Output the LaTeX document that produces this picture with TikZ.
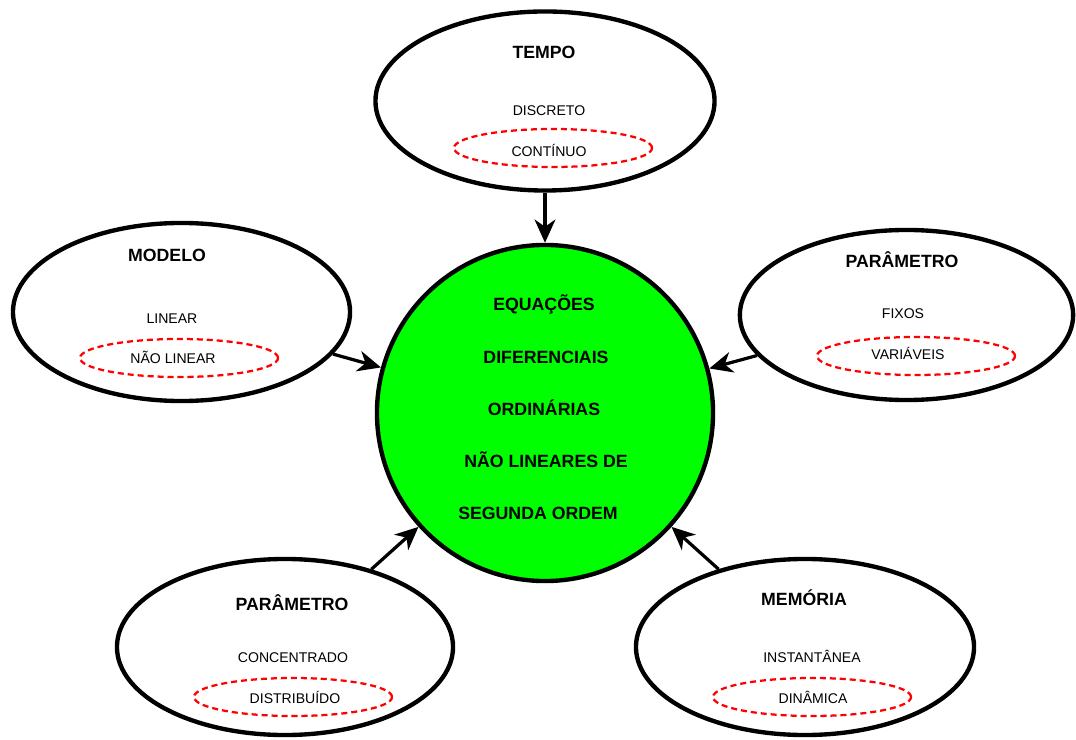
\documentclass[tikz,border=0pt]{standalone}
\usepackage{fontspec}
\setmainfont{Liberation Sans}
\usepackage{xcolor}
\usetikzlibrary{arrows.meta, positioning, shapes.geometric}
\definecolor{eqgreen}{HTML}{00FF00}
\tikzset{
    bubble/.style={ellipse, draw, line width=3.1pt, fill=white, minimum width=8.4cm, minimum height=4.45cm},
    core/.style={circle, draw, line width=3.1pt, fill=eqgreen, minimum size=8.4cm},
    choice/.style={ellipse, draw=red, line width=1.6pt, dash pattern=on 4.3pt off 2.8pt, minimum width=4.95cm, minimum height=0.95cm},
    title/.style={anchor=base, font=\bfseries\fontsize{12.6}{15}\selectfont},
    item/.style={anchor=base, font=\fontsize{10}{12}\selectfont},
    link/.style={-{Stealth[length=0.58cm, width=0.52cm, inset=0.18cm]}, line width=2.3pt}
}

\begin{document}
\begin{tikzpicture}[x=0.025cm, y=-0.025cm]
    \useasboundingbox (0,0) rectangle (1076,740);
    % outer bubbles
    \node[bubble, minimum width=8.475cm, minimum height=4.475cm] (tempo) at (545,101) {};
    \node[bubble, minimum width=8.425cm, minimum height=4.45cm] (modelo) at (181.5,312) {};
    \node[bubble, minimum width=8.33cm, minimum height=4.25cm] (paramR) at (906.5,315) {};
    \node[bubble, minimum height=4.4cm] (paramL) at (285,647) {};
    \node[bubble, minimum width=8.45cm, minimum height=4.4cm] (memoria) at (805,647) {};
    % central circle
    \node[core] (edo) at (545,413) {};
    % chosen options
    \node[choice] (tempo-s) at (553,148) {};
    \node[choice] (modelo-s) at (179,358) {};
    \node[choice] (paramR-s) at (916,356) {};
    \node[choice] (paramL-s) at (293,697) {};
    \node[choice] (memoria-s) at (812,697) {};
    % TEMPO
    \node[title] (tempo-t) at (544,58.5) {TEMPO};
    \node[item] (tempo-a) at (549,116) {DISCRETO};
    \node[item] (tempo-b) at (549,157) {CONTÍNUO};
    % MODELO
    \node[title] (modelo-t) at (167,261.5) {MODELO};
    \node[item] (modelo-a) at (172,324) {LINEAR};
    \node[item] (modelo-b) at (173,364) {NÃO LINEAR};
    % PARAMETRO (fixos / variaveis)
    \node[title] (paramR-t) at (902,267.5) {PARÂMETRO};
    \node[item] (paramR-a) at (903,319) {FIXOS};
    \node[item] (paramR-b) at (908,360) {VARIÁVEIS};
    % PARAMETRO (concentrado / distribuido)
    \node[title] (paramL-t) at (292,610.5) {PARÂMETRO};
    \node[item] (paramL-a) at (293,662) {CONCENTRADO};
    \node[item] (paramL-b) at (295,703) {DISTRIBUÍDO};
    % MEMORIA
    \node[title] (memoria-t) at (804,605.5) {MEMÓRIA};
    \node[item] (memoria-a) at (812,662) {INSTANTÂNEA};
    \node[item] (memoria-b) at (813,703) {DINÂMICA};
    % central text
    \node[title] (edo-1) at (544,311) {EQUAÇÕES};
    \node[title] (edo-2) at (546,363.5) {DIFERENCIAIS};
    \node[title] (edo-3) at (544,415.5) {ORDINÁRIAS};
    \node[title] (edo-4) at (546,467.5) {NÃO LINEARES DE};
    \node[title] (edo-5) at (538,519) {SEGUNDA ORDEM};
    % arrows into the circle
    \draw[link] (tempo) -- (edo);
    \draw[link] (modelo) -- (edo);
    \draw[link] (paramR) -- (edo);
    \draw[link] (paramL) -- (edo);
    \draw[link] (memoria) -- (edo);
\end{tikzpicture}
\end{document}
